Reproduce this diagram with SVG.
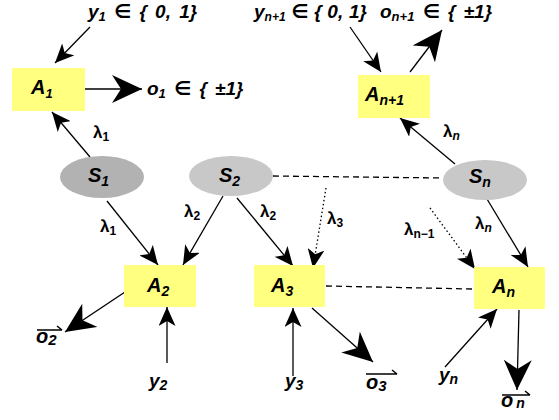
<svg xmlns="http://www.w3.org/2000/svg" width="559" height="420" viewBox="0 0 559 420">
<style>
.t{font-family:"Liberation Sans",Arial,"DejaVu Sans",sans-serif;font-weight:bold;font-style:italic;font-size:19px;fill:#000}
.lam{font-family:"Liberation Sans",Arial,"DejaVu Sans",sans-serif;font-weight:bold;font-size:17px;fill:#000}
.big{font-size:20px}
.ov{font-size:20px}
.box{fill:#ffff80;stroke:none}
.s1{fill:#b2b2b2}
.s2{fill:#c8c8c8}
.ln{stroke:#000;stroke-width:1.3;fill:none}
.sm{marker-end:url(#ah)}
.bg{marker-end:url(#ahb)}
.dash{stroke-dasharray:6 4}
.dot{stroke-dasharray:1.5 2.5}
.vec{stroke:#000;stroke-width:1.5;fill:none}
</style>
<defs>
<marker id="ah" viewBox="0 0 19 17" refX="19" refY="8.5" markerWidth="19" markerHeight="17" markerUnits="userSpaceOnUse" orient="auto">
<path d="M0,0 L19,8.5 L0,17 L5,8.5 Z" fill="#000"/>
</marker>
<marker id="ahb" viewBox="0 0 30 28" refX="30" refY="14" markerWidth="30" markerHeight="28" markerUnits="userSpaceOnUse" orient="auto">
<path d="M0,0 L30,14 L0,28 L9,14 Z" fill="#000"/>
</marker>
</defs>

<g id="connectors">
<line class="ln sm" x1="90" y1="27" x2="55" y2="63"/>
<line class="ln bg" x1="82" y1="89" x2="142" y2="89"/>
<line class="ln sm" x1="90" y1="157" x2="52" y2="112"/>
<line class="ln sm" x1="107" y1="201" x2="158" y2="265"/>
<line class="ln sm" x1="223" y1="196" x2="183" y2="265"/>
<line class="ln sm" x1="237" y1="198" x2="293" y2="266"/>
<line class="ln dash" x1="273" y1="176" x2="443" y2="178"/>
<line class="ln dot sm" x1="326" y1="188" x2="313" y2="268"/>
<line class="ln dot sm" x1="430" y1="208" x2="475" y2="269"/>
<line class="ln sm" x1="487" y1="199" x2="528" y2="267"/>
<line class="ln sm" x1="455" y1="164" x2="400" y2="118"/>
<line class="ln sm" x1="350" y1="27" x2="381" y2="72"/>
<line class="ln bg" x1="410" y1="72" x2="442" y2="30"/>
<line class="ln bg" x1="125" y1="292" x2="65" y2="332"/>
<line class="ln sm" x1="167" y1="363" x2="167" y2="307"/>
<line class="ln bg" x1="312" y1="308" x2="373" y2="362"/>
<line class="ln sm" x1="293" y1="376" x2="293" y2="308"/>
<line class="ln dash" x1="326" y1="286" x2="473" y2="289"/>
<line class="ln sm" x1="445" y1="367" x2="497" y2="309"/>
<line class="ln bg" x1="519" y1="310" x2="517" y2="390"/>
</g>

<g id="A1">
<rect class="box" x="12" y="68" width="73" height="43"/>
<text class="t big" x="31" y="94">A<tspan font-size="13" dy="4">1</tspan></text>
</g>
<g id="An1">
<rect class="box" x="358" y="75" width="72" height="43"/>
<text class="t big" x="365" y="101">A<tspan font-size="14" dy="4">n+1</tspan></text>
</g>
<g id="A2">
<rect class="box" x="124" y="265" width="72" height="42"/>
<text class="t big" x="147" y="292">A<tspan font-size="14" dy="4">2</tspan></text>
</g>
<g id="A3">
<rect class="box" x="254" y="265" width="71" height="42"/>
<text class="t big" x="271" y="292">A<tspan font-size="14" dy="4">3</tspan></text>
</g>
<g id="An">
<rect class="box" x="474" y="267" width="71" height="42"/>
<text class="t big" x="492" y="293">A<tspan font-size="14" dy="4">n</tspan></text>
</g>
<g id="S1">
<ellipse class="s1" cx="102" cy="177" rx="42" ry="21"/>
<text class="t big" x="88" y="182">S<tspan font-size="14" dy="4">1</tspan></text>
</g>
<g id="S2">
<ellipse class="s2" cx="231" cy="176" rx="42" ry="20"/>
<text class="t big" x="219" y="182">S<tspan font-size="14" dy="4">2</tspan></text>
</g>
<g id="Sn">
<ellipse class="s2" cx="485" cy="180" rx="42" ry="20"/>
<text class="t big" x="469" y="183">S<tspan font-size="14" dy="4">n</tspan></text>
</g>

<g id="labels">
<text class="t" x="88" y="18" word-spacing="3">y<tspan font-size="13" dy="3">1</tspan><tspan dy="-3"> ∈ { 0, 1}</tspan></text>
<text class="t" x="254" y="18" font-size="18" word-spacing="0.5">y<tspan font-size="12" dy="3">n+1</tspan><tspan dy="-3"> ∈ { 0, 1}</tspan></text>
<text class="t" x="380" y="18" word-spacing="3">o<tspan font-size="13" dy="3">n+1</tspan><tspan dy="-3"> ∈ { ±1}</tspan></text>
<text class="t" x="147" y="95" word-spacing="3">o<tspan font-size="13" dy="3">1</tspan><tspan dy="-3"> ∈ { ±1}</tspan></text>

<text class="lam" x="93" y="138">λ<tspan font-size="12" dy="3">1</tspan></text>
<text class="lam" x="100" y="232">λ<tspan font-size="12" dy="3">1</tspan></text>
<text class="lam" x="184" y="217">λ<tspan font-size="12" dy="3">2</tspan></text>
<text class="lam" x="260" y="217">λ<tspan font-size="12" dy="3">2</tspan></text>
<text class="lam" x="327" y="224">λ<tspan font-size="12" dy="3">3</tspan></text>
<text class="lam" x="404" y="235">λ<tspan font-size="12" dy="3">n−1</tspan></text>
<text class="lam" x="475" y="229">λ<tspan font-size="12" font-style="italic" dy="3">n</tspan></text>
<text class="lam" x="443" y="137">λ<tspan font-size="12" font-style="italic" dy="3">n</tspan></text>

<text class="t" x="149" y="387">y<tspan font-size="14" dy="3">2</tspan></text>
<text class="t" x="285" y="387">y<tspan font-size="14" dy="3">3</tspan></text>
<text class="t" x="439" y="381">y<tspan font-size="14" dy="3">n</tspan></text>

<text class="t ov" x="36" y="343">o<tspan font-size="15" dy="2">2</tspan></text>
<path class="vec" d="M37,330 H62 M57,326 L62,330"/>
<text class="t ov" x="366" y="389">o<tspan font-size="15" dy="2">3</tspan></text>
<path class="vec" d="M366,374 H397 M392,370 L397,374"/>
<text class="t ov" x="501" y="407">o<tspan font-size="14" dx="3" dy="1">n</tspan></text>
<path class="vec" d="M502,395 H530 M525,391 L530,395"/>
</g>
</svg>
